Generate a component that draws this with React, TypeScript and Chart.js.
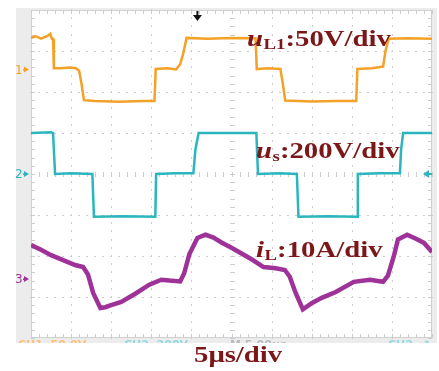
import React, { useEffect, useRef } from "react";
import { Chart, registerables } from "chart.js";

Chart.register(...registerables);

// Time in divisions (5 µs/div), amplitude in divisions
const xMajor = [0, 1, 2, 3, 4, 5, 6, 7, 8, 9, 10];
const yMajor = [-4, -3, -2, -1, 0, 1, 2, 3, 4];

const uL1Time = [0, 0.12, 0.25, 0.4, 0.48, 0.52, 0.55, 0.57, 0.75, 0.95, 1.12, 1.2, 1.26, 1.32, 1.6, 2.2, 2.8, 3.08, 3.11, 3.4, 3.62, 3.72, 3.8, 3.88, 4.4, 5.0, 5.6, 5.63, 5.9, 6.22, 6.28, 6.34, 7.0, 7.6, 8.11, 8.14, 8.5, 8.78, 8.84, 8.92, 9.4, 10];
const uL1Values = [3.32, 3.36, 3.3, 3.36, 3.42, 3.3, 3.3, 2.58, 2.58, 2.6, 2.58, 2.52, 2.2, 1.8, 1.78, 1.76, 1.78, 1.78, 2.56, 2.58, 2.55, 2.68, 2.95, 3.32, 3.3, 3.32, 3.31, 2.56, 2.58, 2.56, 2.2, 1.79, 1.77, 1.78, 1.78, 2.56, 2.58, 2.62, 3.0, 3.3, 3.31, 3.3];

const usTime = [0, 0.5, 0.55, 0.6, 1.0, 1.53, 1.57, 2.3, 3.1, 3.12, 3.6, 4.05, 4.1, 4.18, 5.0, 5.62, 5.66, 6.2, 6.63, 6.67, 7.4, 8.13, 8.15, 8.7, 9.2, 9.23, 9.28, 10];
const usValues = [1.0, 1.02, 1.0, 0.0, 0.02, 0.0, -1.04, -1.03, -1.04, 0.0, 0.02, 0.02, 0.6, 1.0, 1.0, 1.0, 0.0, 0.02, 0.0, -1.04, -1.03, -1.04, 0.0, 0.02, 0.02, 0.6, 1.0, 1.0];

const iLTime = [0, 0.25, 0.5, 0.8, 1.1, 1.3, 1.42, 1.55, 1.73, 1.85, 2.0, 2.25, 2.6, 2.95, 3.25, 3.45, 3.72, 3.82, 3.95, 4.15, 4.35, 4.55, 4.75, 5.0, 5.25, 5.5, 5.8, 6.1, 6.33, 6.45, 6.6, 6.78, 7.0, 7.25, 7.6, 8.05, 8.45, 8.78, 8.9, 9.05, 9.15, 9.38, 9.6, 9.8, 10];
const iLValues = [-1.73, -1.85, -1.98, -2.1, -2.22, -2.27, -2.45, -2.9, -3.27, -3.25, -3.2, -3.12, -2.92, -2.7, -2.58, -2.6, -2.62, -2.42, -1.95, -1.56, -1.48, -1.55, -1.67, -1.8, -1.94, -2.08, -2.27, -2.3, -2.34, -2.5, -2.9, -3.3, -3.15, -3.02, -2.88, -2.63, -2.58, -2.63, -2.48, -2.0, -1.6, -1.48, -1.58, -1.68, -1.9];

const channelNames = ["1", "2", "3"];
const channelZero = [2.55, 0, -2.56];
const channelColors = ["#f4a127", "#2bb6bf", "#9e3298"];

const labelColor = "#7b1719";
const traceLabels = [
  { main: "u", sub: "L1", rest: ":50V/div" },
  { main: "u", sub: "s", rest: ":200V/div" },
  { main: "i", sub: "L", rest: ":10A/div" },
];
const timeLabel = "5μs/div";

const toPoints = (t: number[], v: number[]) => t.map((tt, i) => ({ x: tt, y: v[i] }));

const SERIF = "'Liberation Serif', 'Times New Roman', serif";
const SX = 1.25;

function drawRich(ctx: CanvasRenderingContext2D, x: number, base: number, main: string, sub: string, rest: string) {
  ctx.save();
  ctx.translate(x, base);
  ctx.scale(SX, 1);
  ctx.fillStyle = labelColor;
  ctx.textBaseline = "alphabetic";
  ctx.textAlign = "left";
  let cx = 0;
  ctx.font = `italic bold 23px ${SERIF}`;
  ctx.fillText(main, cx, 0);
  cx += ctx.measureText(main).width + 0.5;
  ctx.font = `bold 15px ${SERIF}`;
  ctx.fillText(sub, cx, 3);
  cx += ctx.measureText(sub).width;
  ctx.font = `bold 23px ${SERIF}`;
  ctx.fillText(rest, cx, 0);
  ctx.restore();
}

const scopePlugin = {
  id: "scope",
  beforeDraw(chart: any) {
    const { ctx, chartArea: a } = chart;
    ctx.save();
    ctx.fillStyle = "#ffffff";
    ctx.fillRect(0, 0, chart.width, chart.height);
    ctx.fillStyle = "#ececec";
    ctx.fillRect(16, 8, a.left - 16, a.bottom + 5 - 8);
    ctx.fillRect(16, a.bottom, 437 - 16, 5);
    ctx.fillRect(a.right, 8, 437 - a.right, a.bottom + 5 - 8);
    ctx.fillRect(16, 8, 437 - 16, a.top - 8);
    ctx.fillStyle = "#ffffff";
    ctx.fillRect(a.left, a.top, a.right - a.left, a.bottom - a.top);
    // faint clipped status text in bottom strip
    ctx.beginPath();
    ctx.rect(16, a.bottom + 1, 421, 4);
    ctx.clip();
    ctx.font = "bold 11px 'DejaVu Sans', sans-serif";
    ctx.textBaseline = "top";
    ctx.fillStyle = "#f8c27a";
    ctx.fillText("CH1  50.0V", 18, a.bottom + 2);
    ctx.fillStyle = "#93d9de";
    ctx.fillText("CH2  200V", 124, a.bottom + 2);
    ctx.fillStyle = "#b9bdc2";
    ctx.fillText("M 5.00μs", 230, a.bottom + 2);
    ctx.fillStyle = "#93d9de";
    ctx.fillText("CH2  ↗", 388, a.bottom + 2);
    ctx.restore();
  },
  beforeDatasetsDraw(chart: any) {
    const { ctx, chartArea: a, scales } = chart;
    const xs = scales.x;
    const ys = scales.y;
    ctx.save();
    ctx.strokeStyle = "#d0d0d0";
    ctx.lineWidth = 1;
    ctx.strokeRect(a.left + 0.5, a.top + 0.5, a.right - a.left - 1, a.bottom - a.top - 1);
    ctx.fillStyle = "#cdcdcd";
    const yMinor: number[] = [];
    for (let k = 0; k <= 40; k++) yMinor.push(-4 + k * 0.2);
    const xMinor: number[] = [];
    for (let k = 0; k <= 50; k++) xMinor.push(k * 0.2);
    // vertical grid lines (dotted)
    xMajor.forEach((v) => {
      const px = Math.round(xs.getPixelForValue(v));
      if (v === 0 || v === 10) return;
      yMinor.forEach((m) => {
        const py = Math.round(ys.getPixelForValue(m));
        if (v === 5) ctx.fillRect(px - 2, py, 5, 1);
        else ctx.fillRect(px, py - 1, 1, 2);
      });
    });
    // horizontal grid lines (dotted)
    yMajor.forEach((v) => {
      const py = Math.round(ys.getPixelForValue(v));
      if (v === -4 || v === 4) return;
      xMinor.forEach((m) => {
        const px = Math.round(xs.getPixelForValue(m));
        if (v === 0) ctx.fillRect(px, py - 2, 1, 5);
        else ctx.fillRect(px - 1, py, 2, 1);
      });
    });
    // border ticks
    xMinor.forEach((m) => {
      const px = Math.round(xs.getPixelForValue(m));
      ctx.fillRect(px, a.top, 1, 4);
      ctx.fillRect(px, a.bottom - 4, 1, 4);
    });
    yMinor.forEach((m) => {
      const py = Math.round(ys.getPixelForValue(m));
      ctx.fillRect(a.left, py, 4, 1);
      ctx.fillRect(a.right - 4, py, 4, 1);
    });
    ctx.restore();
  },
  afterDatasetsDraw(chart: any) {
    const { ctx, chartArea: a, scales } = chart;
    const ys = scales.y;
    const xs = scales.x;
    ctx.save();
    // channel markers
    channelNames.forEach((n, i) => {
      const py = ys.getPixelForValue(channelZero[i]);
      ctx.fillStyle = channelColors[i];
      ctx.font = "12px 'DejaVu Sans', sans-serif";
      ctx.textBaseline = "middle";
      ctx.textAlign = "left";
      ctx.fillText(n, 15, py + 1);
      ctx.beginPath();
      ctx.moveTo(24, py - 3);
      ctx.lineTo(29, py);
      ctx.lineTo(24, py + 3);
      ctx.closePath();
      ctx.fill();
      ctx.fillRect(23, py - 0.5, 3, 1.5);
    });
    // right-side marker for channel 2
    {
      const py = ys.getPixelForValue(channelZero[1]);
      ctx.fillStyle = channelColors[1];
      ctx.beginPath();
      ctx.moveTo(423, py);
      ctx.lineTo(429, py - 4);
      ctx.lineTo(429, py + 4);
      ctx.closePath();
      ctx.fill();
      ctx.fillRect(427, py - 1, 5, 2);
    }
    // trigger arrow at top
    {
      const px = xs.getPixelForValue(4.15);
      ctx.fillStyle = "#111111";
      ctx.fillRect(px - 1, a.top + 1, 2, 6);
      ctx.beginPath();
      ctx.moveTo(px - 4.5, a.top + 5);
      ctx.lineTo(px + 4.5, a.top + 5);
      ctx.lineTo(px, a.top + 11);
      ctx.closePath();
      ctx.fill();
    }
    // trace labels
    drawRich(ctx, 247, 46, traceLabels[0].main, traceLabels[0].sub, traceLabels[0].rest);
    drawRich(ctx, 256, 158, traceLabels[1].main, traceLabels[1].sub, traceLabels[1].rest);
    drawRich(ctx, 256, 257, traceLabels[2].main, traceLabels[2].sub, traceLabels[2].rest);
    // time/div
    ctx.save();
    ctx.translate(194, 362);
    ctx.scale(SX, 1);
    ctx.fillStyle = labelColor;
    ctx.font = `bold 23px ${SERIF}`;
    ctx.textBaseline = "alphabetic";
    ctx.fillText(timeLabel, 0, 0);
    ctx.restore();
    ctx.restore();
  },
};

export default function App() {
  const ref = useRef<HTMLCanvasElement>(null);
  useEffect(() => {
    if (!ref.current) return;
    const chart = new Chart(ref.current, {
      type: "line",
      data: {
        datasets: [
          {
            data: toPoints(uL1Time, uL1Values),
            borderColor: channelColors[0],
            borderWidth: 2.5,
            pointRadius: 0,
            tension: 0,
          },
          {
            data: toPoints(usTime, usValues),
            borderColor: channelColors[1],
            borderWidth: 2.5,
            pointRadius: 0,
            tension: 0,
          },
          {
            data: toPoints(iLTime, iLValues),
            borderColor: channelColors[2],
            borderWidth: 4.5,
            pointRadius: 0,
            tension: 0,
          },
        ],
      },
      options: {
        responsive: false,
        animation: false,
        devicePixelRatio: 1,
        layout: { padding: { left: 31, right: 7, top: 10, bottom: 33 } },
        scales: {
          x: { type: "linear", min: 0, max: 10, display: false },
          y: { type: "linear", min: -4, max: 4, display: false },
        },
        plugins: { legend: { display: false }, tooltip: { enabled: false } },
      },
      plugins: [scopePlugin],
    } as any);
    return () => chart.destroy();
  }, []);
  return (
    <div style={{ position: "absolute", left: 0, top: 0, width: 439, height: 371 }}>
      <canvas ref={ref} width={439} height={371} style={{ display: "block" }} />
    </div>
  );
}
